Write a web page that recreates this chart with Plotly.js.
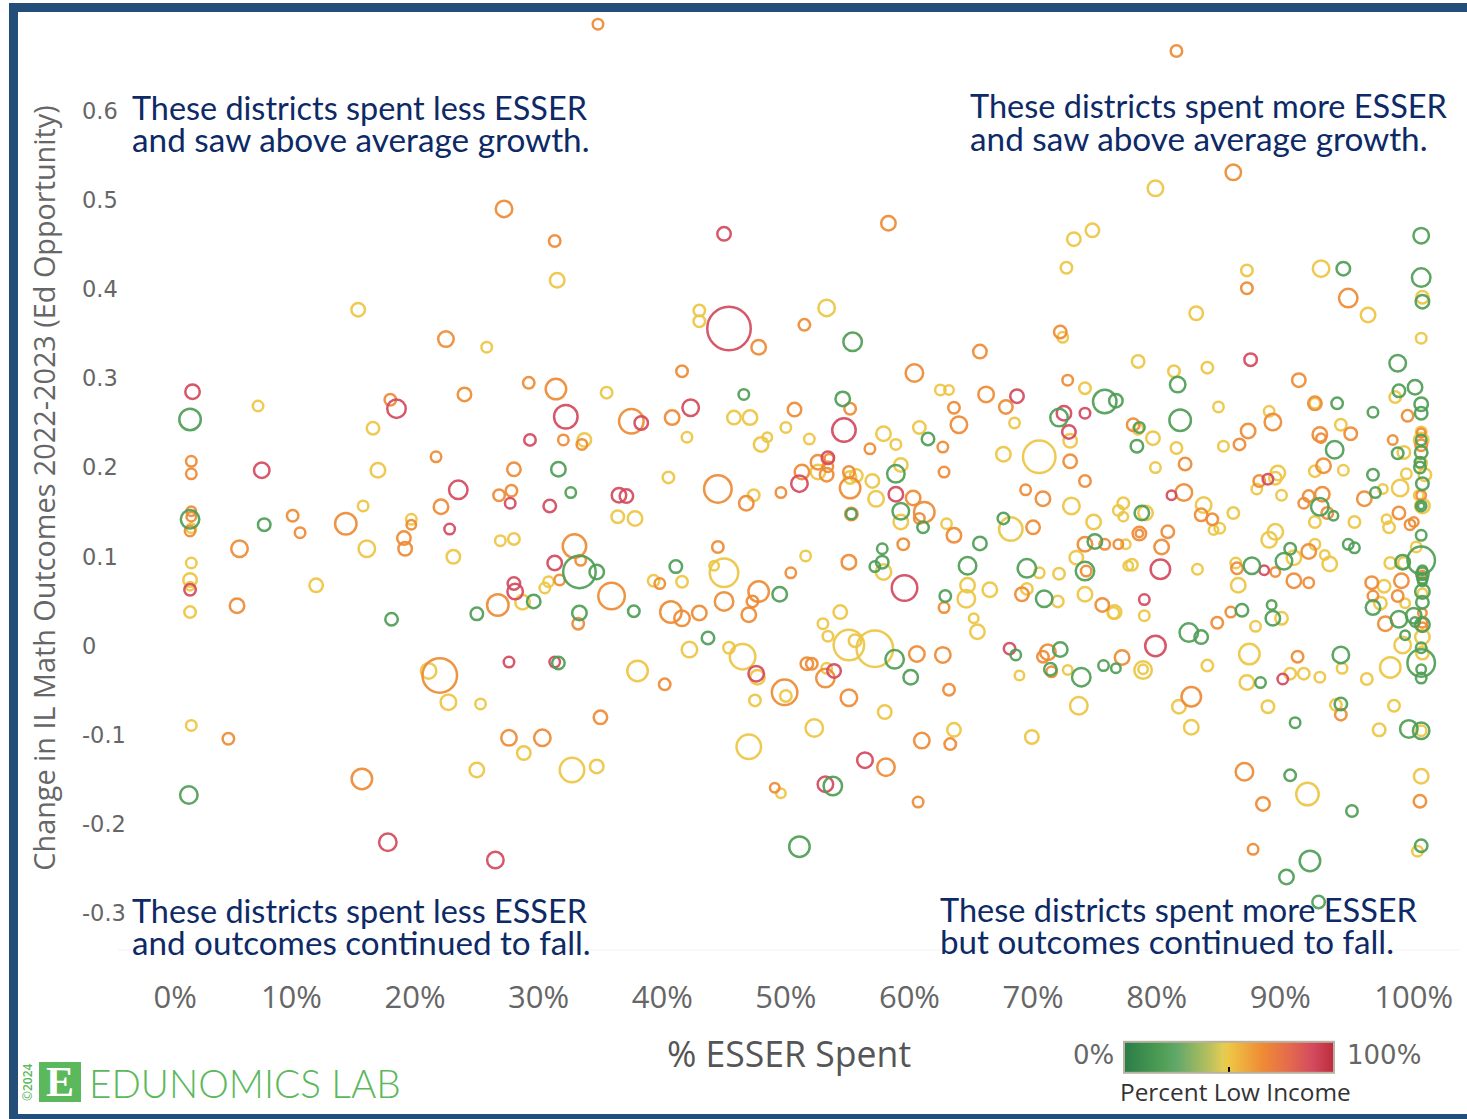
<!DOCTYPE html>
<html>
<head>
<meta charset="utf-8">
<script src="https://cdn.plot.ly/plotly-3.0.1.min.js"></script>
<style>html,body{margin:0;padding:0;background:#fff;overflow:hidden}#chart{width:1467px;height:1119px}</style>
</head>
<body>
<div id="chart"></div>
<script>
// Each district: [% ESSER spent, change in IL math outcomes, bubble measure]
const redDistricts = [[2.0,.285,17],[18.5,.266,21],[7.6,.197,18],[23.5,.175,21],[22.8,.131,13],[1.8,.063,14],[17.8,-.22,20],[26.5,-.24,19],[45.0,.462,16],[45.4,.356,46],[32.2,.257,26],[38.3,.25,16],[42.3,.267,19],[29.3,.231,14],[51.1,.182,19],[27.7,.16,13],[30.9,.157,15],[36.5,.169,17],[37.1,.168,16],[31.3,.093,17],[28.0,.07,15],[28.1,.061,18],[27.6,-.018,13],[31.3,-.018,13],[47.6,-.031,18],[68.7,.28,16],[72.5,.261,17],[74.2,.261,13],[72.9,.24,16],[54.7,.242,26],[53.4,.211,15],[58.9,.17,17],[59.6,.065,28],[53.9,-.028,16],[56.4,-.128,18],[53.2,-.155,18],[68.1,-.003,14],[87.6,.321,15],[89.0,.187,13],[81.2,.169,12],[80.3,.086,22],[88.7,.085,12],[79.0,.052,13],[79.9,0,23],[90.2,-.037,13]];
const greenDistricts = [[1.8,.254,24],[7.8,.136,15],[1.8,.142,21],[18.1,.03,15],[25.0,.036,15],[1.7,-.167,20],[46.6,.282,13],[31.6,.198,17],[32.6,.172,13],[33.3,.083,35],[34.7,.083,17],[41.1,.089,15],[29.6,.05,16],[33.3,.037,17],[37.7,.039,14],[49.5,.058,17],[43.7,.009,15],[31.6,-.019,15],[51.1,-.225,23],[55.4,.341,21],[75.8,.274,26],[76.7,.275,16],[54.6,.277,17],[72.1,.256,20],[61.5,.232,15],[58.9,.193,20],[59.3,.151,19],[61.1,.133,14],[55.3,.148,13],[65.7,.115,16],[67.6,.143,14],[75.0,.117,17],[57.8,.109,13],[57.8,.094,15],[57.2,.089,13],[64.7,.09,20],[69.5,.087,21],[74.2,.084,21],[62.9,.056,14],[70.9,.053,19],[58.8,-.015,21],[60.1,-.035,17],[53.8,-.157,21],[68.6,-.01,13],[72.2,-.004,17],[71.4,-.026,15],[73.9,-.035,21],[75.7,-.022,13],[76.7,-.025,12],[101.4,.46,18],[95.1,.423,16],[101.4,.413,21],[101.5,.386,16],[99.5,.317,19],[81.7,.293,18],[100.9,.29,17],[99.6,.286,15],[94.6,.272,14],[101.4,.271,16],[97.5,.262,13],[101.4,.261,15],[81.9,.253,24],[78.6,.245,13],[78.4,.224,15],[94.4,.22,20],[99.5,.216,14],[101.4,.231,13],[101.4,.217,15],[101.3,.206,13],[101.3,.2,14],[101.5,.182,15],[101.4,.157,13],[101.4,.157,9],[97.5,.192,14],[97.7,.172,13],[78.8,.149,17],[93.2,.156,20],[94.3,.146,12],[101.4,.124,13],[90.8,.109,14],[90.3,.095,19],[95.5,.114,13],[96.0,.11,13],[99.9,.094,17],[101.4,.096,30],[87.7,.09,19],[86.9,.04,15],[89.3,.046,12],[89.4,.031,17],[82.6,.015,21],[83.6,.01,16],[94.9,-.01,19],[88.4,-.041,13],[94.9,-.065,15],[91.2,-.086,13],[100.4,-.093,20],[101.4,-.095,19],[90.8,-.145,14],[95.8,-.185,14],[101.4,-.224,15],[92.4,-.241,23],[90.5,-.259,17],[93.1,-.287,15],[97.5,.043,17],[99.6,.03,19],[100.8,.034,18],[100.9,.027,12],[101.5,.061,17],[101.5,.049,15],[101.5,.024,17],[100.1,.012,12],[101.4,-.002,13],[101.4,-.019,30],[101.4,-.026,12],[101.4,-.036,13],[101.5,.085,12],[101.5,.081,15],[101.5,.076,13],[101.5,.072,11]];
const yellowDistricts = [[15.4,.377,16],[25.8,.335,13],[7.3,.269,13],[16.6,.244,15],[17.0,.197,17],[15.8,.157,13],[19.7,.142,13],[1.9,.132,12],[16.1,.109,19],[23.1,.1,16],[1.9,.093,13],[1.8,.074,16],[1.8,.067,11],[1.8,.038,14],[12.0,.068,16],[21.1,-.028,18],[22.7,-.063,18],[25.3,-.065,13],[1.9,-.089,13],[25.0,-.139,17],[31.5,.41,17],[43.0,.376,14],[43.0,.364,14],[35.5,.284,14],[45.8,.256,16],[47.1,.256,17],[50.0,.245,13],[51.9,.232,13],[48.5,.234,12],[48.0,.226,17],[42.0,.234,13],[33.7,.231,16],[40.5,.189,14],[47.4,.169,14],[36.4,.145,15],[37.8,.143,17],[26.9,.118,13],[28.0,.12,14],[44.2,.09,12],[45.0,.082,31],[51.6,.101,13],[30.8,.072,13],[30.5,.065,13],[28.7,.049,17],[39.3,.073,14],[41.6,.072,14],[42.2,-.004,18],[45.4,-.002,14],[46.5,-.012,28],[38.0,-.028,23],[47.7,-.035,17],[50.0,-.056,14],[47.5,-.061,14],[28.8,-.12,16],[32.7,-.139,27],[34.7,-.135,16],[47.0,-.113,27],[49.6,-.165,12],[52.3,-.092,20],[53.3,.379,19],[73.3,.456,16],[74.8,.466,16],[72.7,.424,14],[72.4,.346,13],[62.5,.287,13],[63.2,.287,12],[74.2,.289,14],[60.8,.245,15],[68.5,.25,13],[57.9,.238,17],[58.9,.226,13],[73.0,.23,16],[67.6,.215,17],[70.5,.212,35],[52.6,.195,17],[55.2,.189,15],[55.7,.191,15],[57.0,.185,16],[59.3,.203,16],[57.3,.165,18],[59.3,.139,17],[63.0,.137,13],[68.2,.131,26],[73.1,.157,19],[74.9,.139,17],[77.3,.16,14],[76.9,.152,13],[77.3,.145,12],[77.5,.114,12],[73.5,.099,16],[77.7,.09,12],[57.9,.083,18],[70.5,.082,13],[72.1,.081,14],[64.7,.068,17],[64.6,.053,20],[66.5,.063,17],[65.2,.031,12],[65.5,.016,17],[69.5,.064,14],[72.0,.05,14],[74.2,.058,17],[76.6,.038,16],[76.5,.037,14],[54.4,.038,16],[53.0,.025,13],[53.4,.011,13],[55.1,.001,33],[55.6,.006,15],[57.2,-.003,39],[53.3,-.025,13],[58.0,-.074,16],[63.6,-.094,16],[68.9,-.033,12],[72.8,-.027,12],[73.7,-.067,20],[69.9,-.102,16],[79.9,.513,18],[87.3,.421,14],[93.3,.423,19],[101.5,.391,15],[83.2,.373,16],[97.1,.371,17],[101.4,.345,13],[78.5,.319,15],[81.4,.308,14],[84.1,.312,14],[99.3,.279,14],[92.8,.272,13],[85.0,.268,13],[89.1,.263,13],[78.5,.243,13],[79.7,.233,16],[81.6,.222,14],[85.4,.224,13],[94.9,.248,14],[100.0,.217,15],[101.4,.24,13],[101.4,.231,17],[101.4,.205,14],[101.7,.192,15],[101.2,.169,12],[101.5,.157,17],[79.9,.2,13],[92.8,.196,14],[95.1,.197,13],[100.2,.193,13],[99.7,.177,19],[98.3,.176,12],[88.1,.176,13],[89.6,.188,15],[89.8,.194,17],[90.1,.169,13],[83.8,.158,18],[84.6,.13,12],[85.1,.132,13],[86.2,.149,14],[79.1,.149,17],[92.8,.139,14],[96.0,.139,14],[98.6,.142,12],[98.8,.133,14],[89.6,.128,18],[89.1,.119,18],[92.8,.114,13],[91.1,.099,17],[93.6,.102,12],[94.0,.092,17],[78.0,.091,14],[83.3,.086,13],[101.0,.111,13],[98.9,.093,14],[100.0,.093,14],[86.4,.093,13],[86.6,.068,17],[79.0,.034,13],[90.1,.031,15],[88.0,.022,13],[87.5,-.009,23],[84.1,-.022,14],[78.9,-.027,20],[78.9,-.026,12],[95.0,-.025,13],[97.0,-.037,14],[98.9,-.024,23],[87.3,-.041,17],[90.8,-.031,14],[91.9,-.031,14],[93.2,-.035,13],[81.8,-.068,16],[82.8,-.091,17],[89.0,-.068,15],[94.5,-.066,14],[99.2,-.067,14],[98.0,-.094,15],[101.4,-.095,13],[92.2,-.166,25],[101.4,-.146,17],[101.1,-.23,13],[98.4,.067,15],[98.1,.048,15],[100.1,.048,12],[101.5,.059,12],[101.5,.01,17],[99.9,.001,19],[101.5,-.008,15]];
const orangeDistricts = [[34.8,.697,13],[81.6,.667,14],[86.2,.531,18],[22.5,.344,18],[18.0,.276,14],[24.0,.282,16],[1.9,.207,13],[1.9,.193,13],[21.7,.212,13],[22.1,.156,17],[10.1,.146,14],[19.7,.136,12],[10.7,.127,13],[14.4,.137,24],[1.9,.151,12],[1.9,.145,12],[1.8,.129,13],[5.8,.109,19],[19.1,.121,16],[19.2,.109,16],[5.6,.045,17],[26.7,.046,24],[22.0,-.033,37],[4.9,-.104,14],[15.7,-.149,23],[27.2,.49,19],[31.3,.454,14],[47.8,.335,17],[51.5,.36,14],[41.6,.308,14],[29.2,.295,14],[31.4,.288,23],[37.5,.252,27],[40.8,.256,17],[50.7,.265,16],[32.0,.231,13],[33.5,.226,13],[28.0,.198,16],[44.5,.176,30],[46.8,.16,17],[49.6,.172,13],[51.3,.195,17],[26.8,.169,14],[27.8,.174,14],[32.9,.112,26],[33.4,.096,13],[44.5,.111,14],[50.4,.082,13],[31.7,.074,13],[35.9,.056,29],[33.2,.025,14],[39.8,.07,13],[40.7,.038,24],[41.6,.031,18],[43.0,.037,17],[45.0,.05,21],[47.8,.061,23],[47.3,.05,14],[47.0,.035,17],[40.2,-.043,14],[49.9,-.052,28],[51.7,-.02,15],[35.0,-.08,16],[27.6,-.103,18],[30.3,-.103,19],[49.1,-.159,12],[58.3,.474,17],[72.2,.352,15],[65.7,.33,16],[60.4,.306,20],[72.8,.298,13],[66.2,.282,18],[55.2,.266,14],[63.6,.267,14],[67.8,.268,16],[64.0,.248,19],[62.7,.223,13],[56.8,.221,13],[73.0,.207,16],[74.2,.185,14],[52.6,.206,17],[53.5,.21,12],[53.4,.201,13],[53.3,.192,16],[55.1,.195,14],[55.2,.177,23],[62.8,.195,13],[60.3,.166,17],[61.2,.15,23],[60.8,.143,13],[55.3,.148,15],[63.6,.124,17],[59.5,.114,14],[70.0,.133,16],[69.4,.175,13],[70.8,.165,17],[74.2,.114,17],[75.8,.114,13],[76.9,.114,12],[55.1,.094,17],[74.3,.084,13],[62.8,.043,13],[69.1,.058,16],[75.6,.046,16],[60.6,-.009,18],[62.7,-.01,18],[52.1,-.02,14],[53.2,-.036,21],[55.1,-.058,19],[63.2,-.049,14],[61.0,-.106,18],[63.3,-.11,14],[58.1,-.136,20],[60.7,-.175,13],[71.2,-.007,18],[70.8,-.012,14],[71.5,-.029,13],[77.2,-.013,17],[87.3,.401,14],[95.5,.39,21],[91.5,.298,16],[92.8,.272,16],[100.3,.258,14],[89.4,.251,19],[78.1,.248,15],[87.4,.241,17],[86.7,.226,14],[93.2,.237,17],[93.3,.233,12],[95.7,.238,15],[99.1,.231,12],[101.4,.239,11],[101.4,.225,14],[101.4,.169,12],[82.3,.204,15],[93.5,.202,17],[96.8,.165,17],[88.3,.185,14],[82.2,.172,19],[83.6,.147,15],[84.5,.142,14],[78.6,.126,16],[78.6,.126,10],[80.9,.128,15],[80.4,.111,17],[92.3,.168,14],[93.4,.17,17],[91.9,.16,13],[93.8,.149,14],[99.6,.149,15],[100.5,.136,13],[100.8,.139,12],[92.3,.106,17],[86.5,.087,14],[89.6,.083,12],[91.1,.073,17],[92.3,.071,13],[86.0,.038,13],[84.9,.026,14],[91.4,-.012,14],[82.8,-.057,22],[94.9,-.077,14],[87.1,-.141,20],[88.6,-.177,16],[101.3,-.174,15],[87.8,-.228,13],[97.4,.071,15],[99.8,.073,17],[97.5,.056,13],[99.5,.056,14],[98.5,.025,17],[101.5,.037,11],[101.5,.026,12],[101.5,.021,12],[101.5,.08,10]];

// Representative percent-low-income value of each colour band
const bandIncome = {green: 18, yellow: 50, orange: 66, red: 90};
const xTickVals = [0.6,10,20,30,40,50,60,70,80,90,100.8];
const xTickText = ['0%','10%','20%','30%','40%','50%','60%','70%','80%','90%','100%'];
const yTickVals = [-0.3,-0.2,-0.1,0,0.1,0.2,0.3,0.4,0.5,0.6];
const yTickText = ['-0.3','-0.2','-0.1','0','0.1','0.2','0.3','0.4','0.5','0.6'];

const W = 1467, H = 1119;
const fx = p => p / W, fy = p => 1 - p / H;

function ring(rows, income) {
  return {
    type: 'scatter', mode: 'markers',
    x: rows.map(r => r[0]), y: rows.map(r => r[1]),
    hoverinfo: 'x+y',
    showlegend: false,
    marker: {
      size: rows.map(r => r[2] - 2.5),
      color: 'rgba(0,0,0,0)',
      opacity: 0.92,
      line: {width: 2.5, color: rows.map(() => income), coloraxis: 'coloraxis'}
    }
  };
}
const traces = [
  ring(yellowDistricts, bandIncome.yellow),
  ring(orangeDistricts, bandIncome.orange),
  ring(redDistricts, bandIncome.red),
  ring(greenDistricts, bandIncome.green)
];

function note(text, x, y, size) {
  return {text, xref: 'paper', yref: 'paper', x: fx(x), y: fy(y), xanchor: 'left', yanchor: 'middle',
          showarrow: false, font: {family: 'Lato, sans-serif', size, color: '#0d2a66'}, borderpad: 0};
}
const annotations = [
  note('These districts spent less ESSER', 131, 107, 32.4),
  note('and saw above average growth.', 131, 139, 33.3),
  note('These districts spent more ESSER', 969, 106, 32.5),
  note('and saw above average growth.', 969, 138, 33.3),
  note('These districts spent less ESSER', 131, 910, 32.4),
  note('and outcomes continued to fall.', 131, 942, 33.2),
  note('These districts spent more ESSER', 939, 909, 32.5),
  note('but outcomes continued to fall.', 939, 941, 33.2),
  {text: '0%', xref: 'paper', yref: 'paper', x: fx(1115), y: fy(1055), xanchor: 'right', yanchor: 'middle', showarrow: false,
   font: {family: 'DejaVu Sans', size: 26, color: '#666'}, borderpad: 0},
  {text: '100%', xref: 'paper', yref: 'paper', x: fx(1346), y: fy(1055), xanchor: 'left', yanchor: 'middle', showarrow: false,
   font: {family: 'DejaVu Sans', size: 26, color: '#666'}, borderpad: 0},
  {text: 'Percent Low Income', xref: 'paper', yref: 'paper', x: fx(1235), y: fy(1091), xanchor: 'center', yanchor: 'middle', showarrow: false,
   font: {family: 'Open Sans, sans-serif', size: 24.4, color: '#333'}, borderpad: 0},
  {text: '<b>E</b>', xref: 'paper', yref: 'paper', x: fx(60), y: fy(1082), xanchor: 'center', yanchor: 'middle', showarrow: false,
   font: {family: 'Liberation Serif', size: 42, color: '#fff'}, borderpad: 0},
  {text: 'EDUNOMICS LAB', xref: 'paper', yref: 'paper', x: fx(88), y: fy(1083), xanchor: 'left', yanchor: 'middle', showarrow: false,
   font: {family: 'Lato, sans-serif', size: 38.7, color: '#5cb85c', weight: 300}, borderpad: 0},
  {text: '©2024', xref: 'paper', yref: 'paper', x: fx(27), y: fy(1082), xanchor: 'center', yanchor: 'middle', textangle: -90, showarrow: false,
   font: {family: 'Open Sans', size: 12, color: '#5cb85c', weight: 600}, borderpad: 0}
];

const layout = {
  width: W, height: H,
  margin: {l: 0, r: 0, t: 0, b: 0, autoexpand: false},
  paper_bgcolor: '#fff', plot_bgcolor: '#fff',
  showlegend: false,
  hovermode: 'closest',
  xaxis: {
    domain: [fx(118), fx(1460)],
    range: [-4.03, 104.54],
    tickmode: 'array', tickvals: xTickVals, ticktext: xTickText,
    ticks: '', showgrid: false, zeroline: false, showline: false,
    ticklabelstandoff: 12,
    tickfont: {family: 'Open Sans, sans-serif', size: 31, color: '#666'},
    title: {text: '% ESSER Spent', standoff: 26, font: {family: 'Open Sans, sans-serif', size: 35.6, color: '#555'}}
  },
  yaxis: {
    domain: [fy(964), fy(12)],
    range: [-0.3565, 0.7107],
    anchor: 'free', position: fx(78),
    tickmode: 'array', tickvals: yTickVals, ticktext: yTickText,
    ticks: '', showgrid: false, zeroline: false, showline: false,
    ticklabelposition: 'inside',
    tickfont: {family: 'DejaVu Sans', size: 22.5, color: '#666'},
    title: {text: 'Change in IL Math Outcomes 2022-2023 (Ed Opportunity)', standoff: 16,
            font: {family: 'Open Sans, sans-serif', size: 28.8, color: '#666'}}
  },
  coloraxis: {
    cmin: 0, cmax: 100,
    colorscale: [[0,'#2a7c47'],[0.18,'#4f9e55'],[0.25,'#62a86a'],[0.4,'#b4bf5e'],[0.47,'#e2cc55'],[0.5,'#eec645'],[0.66,'#ee8b35'],[0.78,'#e56c4c'],[0.9,'#d34a5e'],[1,'#bc2c3d']],
    colorbar: {
      orientation: 'h',
      x: fx(1124), xanchor: 'left', y: fy(1083), yanchor: 'bottom',
      len: 210 / W, lenmode: 'fraction', thickness: 31, thicknessmode: 'pixels',
      xpad: 0, ypad: 0, outlinecolor: '#b9b2a3', outlinewidth: 2, borderwidth: 0,
      tickmode: 'array', tickvals: [50], ticktext: [' '], ticks: 'inside', ticklen: 6, tickwidth: 2, tickcolor: '#000',
      tickfont: {size: 1}
    }
  },
  shapes: [
    {type: 'rect', xref: 'paper', yref: 'paper', x0: fx(13.5), x1: fx(1480), y0: fy(7.5), y1: fy(1118.5),
     line: {color: '#234e7a', width: 9}, fillcolor: 'rgba(0,0,0,0)', layer: 'below'},
    {type: 'rect', xref: 'paper', yref: 'paper', x0: fx(39), x1: fx(81), y0: fy(1062), y1: fy(1102),
     line: {width: 0}, fillcolor: '#5cb85c', layer: 'below'},
    {type: 'line', xref: 'paper', yref: 'paper', x0: fx(118), x1: fx(1460), y0: fy(950), y1: fy(950),
     line: {color: '#f3f3f3', width: 1}, layer: 'below'}
  ],
  annotations
};
Plotly.newPlot('chart', traces, layout, {displayModeBar: false, responsive: false});
</script>
</body>
</html>
